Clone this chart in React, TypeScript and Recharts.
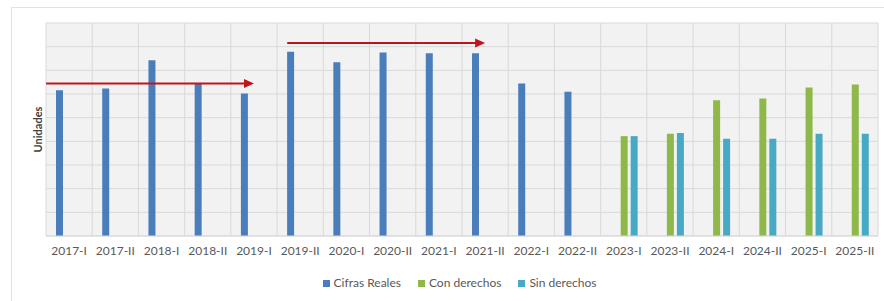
import React from "react";
import {
  Bar,
  BarChart,
  CartesianGrid,
  Legend,
  ReferenceLine,
  XAxis,
  YAxis,
} from "recharts";

const periods = [
  "2017-I", "2017-II", "2018-I", "2018-II", "2019-I", "2019-II",
  "2020-I", "2020-II", "2021-I", "2021-II", "2022-I", "2022-II",
  "2023-I", "2023-II", "2024-I", "2024-II", "2025-I", "2025-II",
];
const cifrasReales = [
  6.16, 6.23, 7.43, 6.44, 6.02, 7.78, 7.34, 7.75, 7.72, 7.72, 6.44, 6.09,
  null, null, null, null, null, null,
];
const conDerechos = [
  null, null, null, null, null, null, null, null, null, null, null, null,
  4.22, 4.32, 5.74, 5.81, 6.27, 6.4,
];
const sinDerechos = [
  null, null, null, null, null, null, null, null, null, null, null, null,
  4.22, 4.35, 4.11, 4.11, 4.32, 4.32,
];
const yTicks = [0, 1, 2, 3, 4, 5, 6, 7, 8, 9];

// red arrows drawn over the chart (category from/to, level)
const arrowA = { from: "2017-I", to: "2019-I", y: 6.44 };
const arrowB = { from: "2019-II", to: "2021-II", y: 8.16 };

const data = periods.map((p, i) => ({
  period: p,
  reales: cifrasReales[i],
  con: conDerechos[i],
  sin: sinDerechos[i],
}));

const arrowShape = (pad: number) => (props: any) => {
  const { x1, y1, x2 } = props;
  const sx = x1 - pad;
  const head = 10;
  return (
    <g>
      <line x1={sx} y1={y1} x2={x2 - head + 1} y2={y1} stroke="#c0141c" strokeWidth={2} />
      <polygon
        points={`${x2},${y1} ${x2 - head},${y1 - 4.5} ${x2 - head},${y1 + 4.5}`}
        fill="#c0141c"
      />
    </g>
  );
};

export default function App() {
  const n = periods.length;
  const yMax = yTicks[yTicks.length - 1];
  return (
    <div
      style={{
        position: "absolute",
        left: 0,
        top: 0,
        width: 884,
        height: 301,
        background: "#fff",
        fontFamily: "Lato, 'Open Sans', sans-serif",
      }}
    >
      <div
        style={{
          position: "absolute",
          left: 11,
          top: 7,
          right: 0,
          bottom: 0,
          borderTop: "1px solid #e2e2e2",
          borderLeft: "1px solid #e2e2e2",
        }}
      />
      <BarChart
        width={884}
        height={301}
        data={data}
        margin={{ top: 23, right: 6, left: 26, bottom: 6 }}
        barSize={7}
        barGap={3}
        style={{ position: "absolute", left: 0, top: 0 }}
      >
        <CartesianGrid
          fill="#f2f2f2"
          stroke="#d9d9d9"
          verticalCoordinatesGenerator={({ offset }: any) =>
            Array.from({ length: n + 1 }, (_, i) => offset.left + (i * offset.width) / n)
          }
          horizontalCoordinatesGenerator={({ offset }: any) =>
            yTicks.map((t) => offset.top + offset.height * (1 - t / yMax))
          }
        />
        <XAxis
          dataKey="period"
          tick={{ fontSize: 12, fill: "#595959" }}
          tickLine={false}
          tickMargin={4}
          axisLine={{ stroke: "#d9d9d9" }}
          interval={0}
          height={39}
        />
        <YAxis
          domain={[0, yMax]}
          ticks={yTicks}
          tick={false}
          tickLine={false}
          axisLine={false}
          width={20}
          label={{
            value: "Unidades",
            angle: -90,
            position: "center",
            dx: 2,
            style: { fontSize: 11, fontWeight: 700, fill: "#404040" },
          }}
        />
        <Legend
          verticalAlign="bottom"
          iconType="square"
          iconSize={7}
          height={20}
          wrapperStyle={{ fontSize: 12, paddingLeft: 16 }}
          formatter={(v: string) => (
            <span style={{ color: "#595959", marginRight: 7 }}>{v}</span>
          )}
        />
        <Bar dataKey="reales" name="Cifras Reales" fill="#4a7ebb" isAnimationActive={false} />
        <Bar dataKey="con" name="Con derechos" fill="#8fb84a" isAnimationActive={false} />
        <Bar dataKey="sin" name="Sin derechos" fill="#48a9c5" isAnimationActive={false} />
        <ReferenceLine
          segment={[{ x: arrowA.from, y: arrowA.y }, { x: arrowA.to, y: arrowA.y }]}
          shape={arrowShape(23)}
        />
        <ReferenceLine
          segment={[{ x: arrowB.from, y: arrowB.y }, { x: arrowB.to, y: arrowB.y }]}
          shape={arrowShape(13)}
        />
      </BarChart>
    </div>
  );
}
